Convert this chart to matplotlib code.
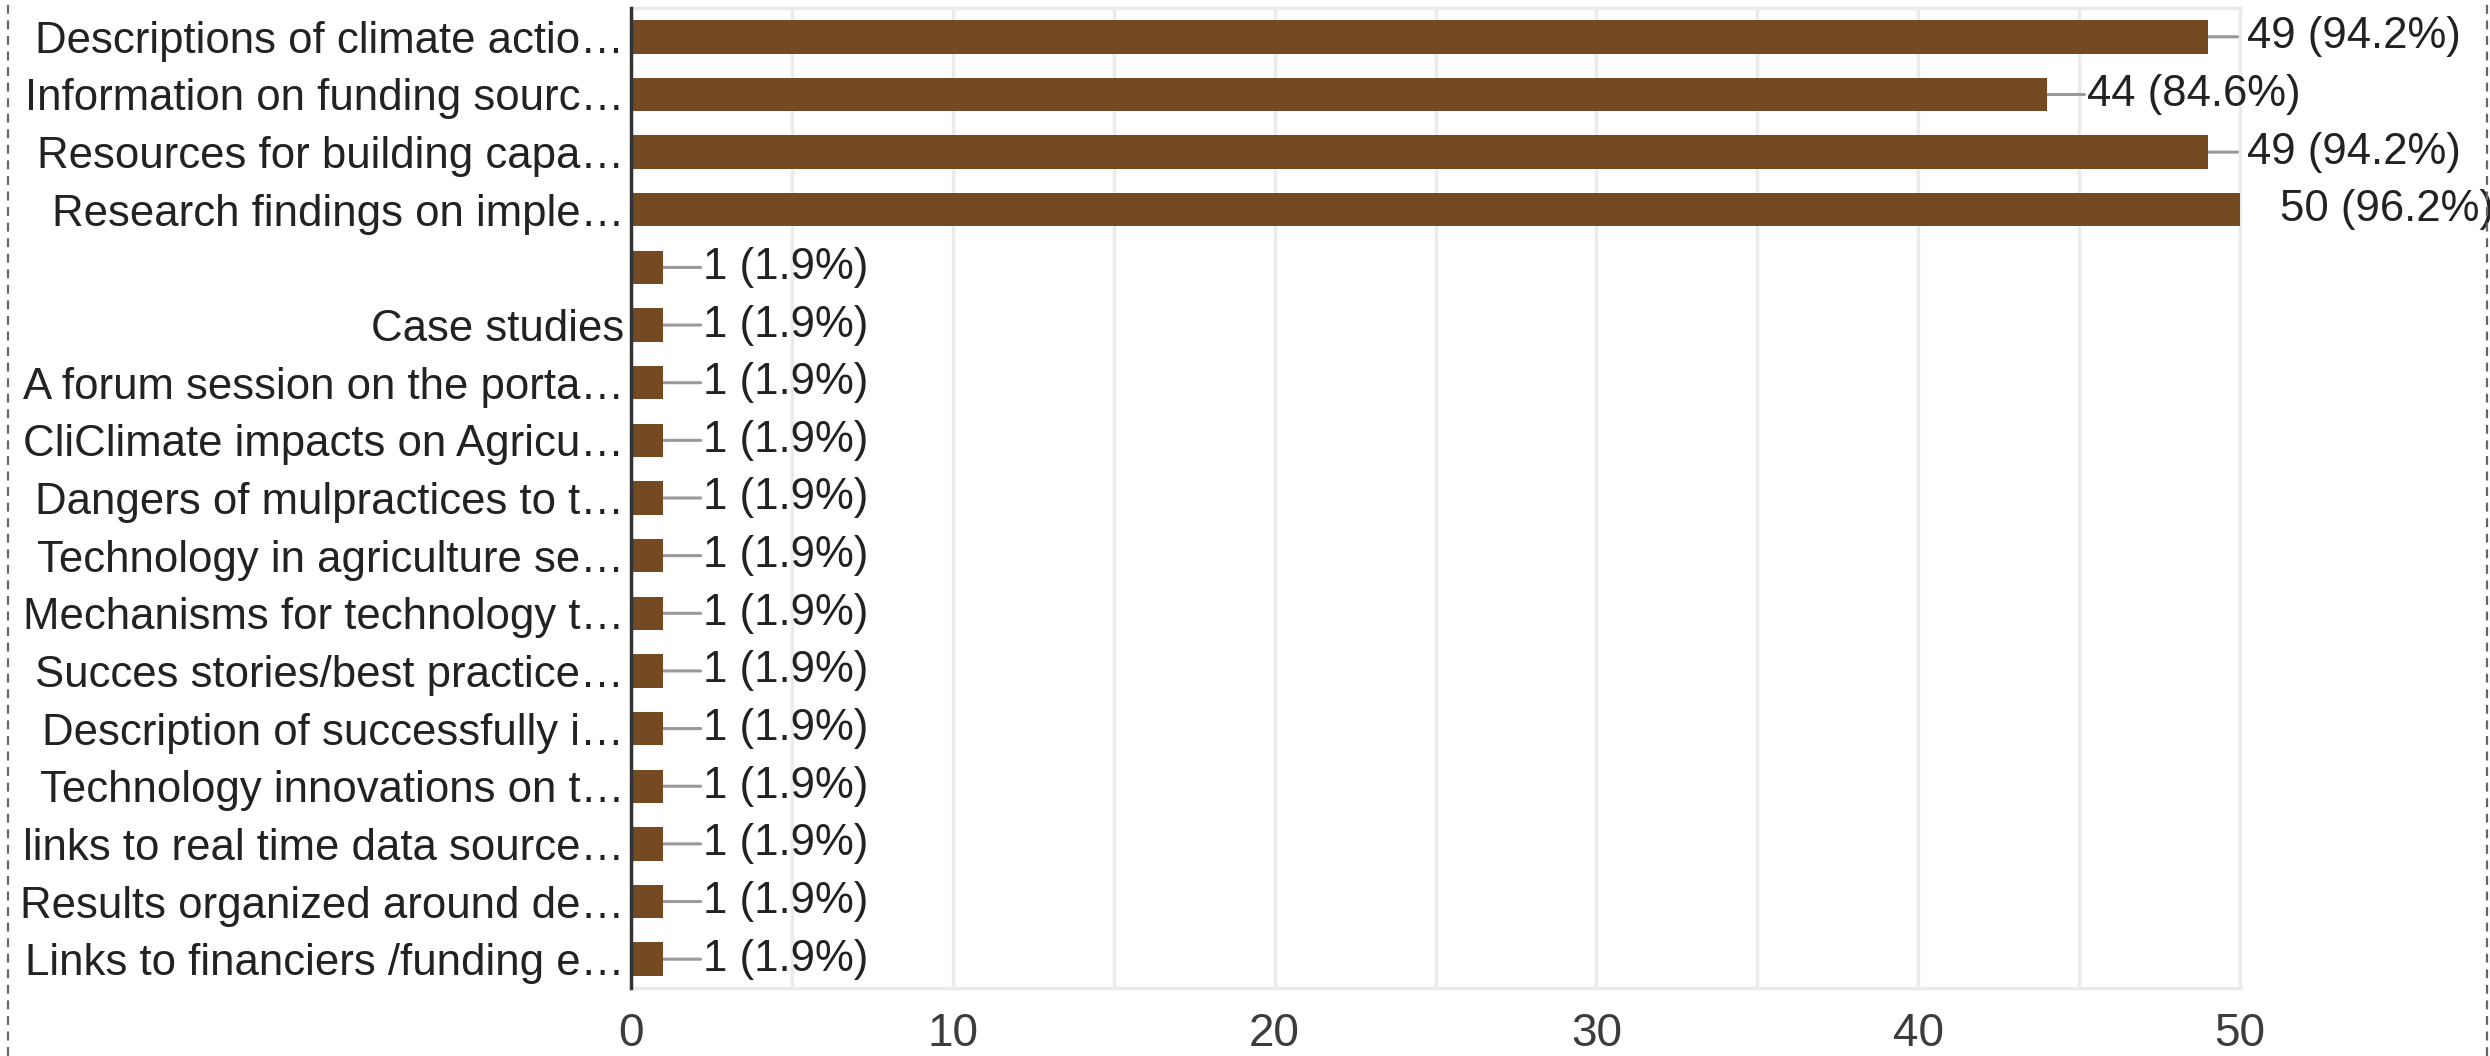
import matplotlib
matplotlib.use("Agg")
import matplotlib.pyplot as plt
from matplotlib.lines import Line2D
from matplotlib.ticker import MultipleLocator

plt.rcParams['font.family'] = ['Liberation Sans', 'DejaVu Sans']

categories = [
    "Descriptions of climate actio…",
    "Information on funding sourc…",
    "Resources for building capa…",
    "Research findings on imple…",
    "",
    "Case studies",
    "A forum session on the porta…",
    "CliClimate impacts on Agricu…",
    "Dangers of mulpractices to t…",
    "Technology in agriculture se…",
    "Mechanisms for technology t…",
    "Succes stories/best practice…",
    "Description of successfully i…",
    "Technology innovations on t…",
    "links to real time data source…",
    "Results organized around de…",
    "Links to financiers /funding e…",
]
counts = [49, 44, 49, 50, 1, 1, 1, 1, 1, 1, 1, 1, 1, 1, 1, 1, 1]
percents = [94.2, 84.6, 94.2, 96.2, 1.9, 1.9, 1.9, 1.9, 1.9, 1.9, 1.9, 1.9, 1.9, 1.9, 1.9, 1.9, 1.9]
xticks = [0, 10, 20, 30, 40, 50]

W, H, DPI = 2490, 1056, 100
fig = plt.figure(figsize=(W / DPI, H / DPI), dpi=DPI)
ax = fig.add_axes([631 / W, 1 - 988 / H, (2240 - 631) / W, (988 - 8) / H])

bar_color = '#744a22'
ypos = list(range(len(categories)))
ax.barh(ypos, counts, height=0.58, color=bar_color, zorder=3)
ax.set_ylim(len(categories) - 0.5, -0.5)
ax.set_xlim(0, 50)

ax.set_yticks(ypos)
ax.set_yticklabels(categories, fontsize=31.5, color='#222222')
ax.set_xticks(xticks)
ax.set_xticklabels([str(t) for t in xticks], fontsize=33, color='#3c3c3c')
ax.xaxis.set_minor_locator(MultipleLocator(5))
ax.tick_params(axis='both', which='both', length=0)
ax.tick_params(axis='y', pad=5)
ax.tick_params(axis='x', pad=17)

ax.grid(axis='x', which='both', color='#ebebeb', linewidth=2.5, zorder=0)
for side in ['top', 'right', 'bottom']:
    ax.spines[side].set_color('#ebebeb')
    ax.spines[side].set_linewidth(2.5)
ax.spines['left'].set_color('#333333')
ax.spines['left'].set_linewidth(2.5)
ax.spines['left'].set_zorder(5)

for y, c, p in zip(ypos, counts, percents):
    ann = ax.annotate('', xy=(c, y), xytext=(27, 0), textcoords='offset points',
                      xycoords='data',
                      arrowprops=dict(arrowstyle='-', color='#999999', lw=2.2,
                                      shrinkA=0, shrinkB=0),
                      annotation_clip=False, zorder=2)
    ann.arrow_patch.set_clip_on(True)
    ann.arrow_patch.set_clip_box(ax.bbox)
    ax.annotate(f"{c} ({p}%)", xy=(c, y), xytext=(28.5, 0), textcoords='offset points',
                va='center', ha='left', fontsize=31.5, color='#222222',
                annotation_clip=False, zorder=4)

# dashed frame edges
for xf in (8 / W, 2487 / W):
    fig.add_artist(Line2D([xf, xf], [0, 1], transform=fig.transFigure,
                          color='#666666', lw=1.6, linestyle=(0, (4, 3))))

fig.savefig('out.png', dpi=DPI)
